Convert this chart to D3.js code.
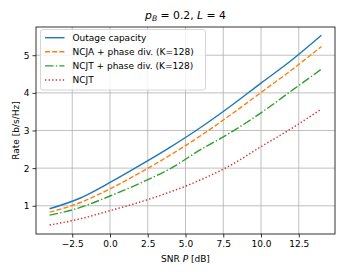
<!DOCTYPE html>
<html>
<head>
<meta charset="utf-8">
<script src="https://cdn.jsdelivr.net/npm/d3@7"></script>
<style>
  body { margin: 0; background: #fff; }
  svg { font-family: "DejaVu Sans", sans-serif; }
</style>
</head>
<body>
<svg id="chart" width="346" height="277"></svg>
<script>
// data
const snr = [-4, -2, 0, 2, 4, 6, 8, 10, 12, 14];
const outage = [0.92, 1.20, 1.62, 2.08, 2.56, 3.08, 3.65, 4.26, 4.86, 5.53];
const ncjaPhase = [0.83, 1.08, 1.45, 1.88, 2.35, 2.86, 3.42, 4.01, 4.60, 5.23];
const ncjtPhase = [0.75, 0.95, 1.26, 1.60, 1.99, 2.49, 2.95, 3.47, 4.05, 4.63];
const ncjt = [0.49, 0.65, 0.87, 1.10, 1.37, 1.69, 2.08, 2.57, 3.05, 3.57];
const seriesNames = ["Outage capacity", "NCJA + phase div. (K=128)", "NCJT + phase div. (K=128)", "NCJT"];
const xTicks = [-2.5, 0, 2.5, 5, 7.5, 10, 12.5];
const yTicks = [1, 2, 3, 4, 5];

let svg = d3.select("#chart");
let mLeft = 36, mRight = 335, mTop = 27, mBottom = 234;

// matplotlib style 5% margins
let xScale = d3.scaleLinear().domain([-4.9, 14.9]).range([mLeft, mRight]);
let yScale = d3.scaleLinear().domain([0.25, 5.75]).range([mBottom, mTop]);

// grid
svg.append("g").selectAll("line").data(xTicks).enter().append("line")
  .attr("x1", d => xScale(d)).attr("x2", d => xScale(d))
  .attr("y1", mTop).attr("y2", mBottom)
  .style("stroke", "#b0b0b0").style("stroke-width", 0.8);
svg.append("g").selectAll("line").data(yTicks).enter().append("line")
  .attr("x1", mLeft).attr("x2", mRight)
  .attr("y1", d => yScale(d)).attr("y2", d => yScale(d))
  .style("stroke", "#b0b0b0").style("stroke-width", 0.8);

// axes
let fmtX = d => d.toFixed(1).replace("-", "\u2212");
let xAxis = svg.append("g").attr("transform", `translate(0,${mBottom})`)
  .call(d3.axisBottom(xScale).tickValues(xTicks).tickFormat(fmtX).tickSize(3.5).tickPadding(3));
let yAxis = svg.append("g").attr("transform", `translate(${mLeft},0)`)
  .call(d3.axisLeft(yScale).tickValues(yTicks).tickFormat(d3.format("d")).tickSize(3.5).tickPadding(3));
[xAxis, yAxis].forEach(a => {
  a.select(".domain").remove();
  a.selectAll("text").style("font-size", "9px").style("font-family", "DejaVu Sans").attr("fill", "#000");
  a.selectAll("line").style("stroke", "#000").style("stroke-width", 0.8);
});

// series
let series = [
  { values: outage, color: "#1f77b4", dash: null },
  { values: ncjaPhase, color: "#ff7f0e", dash: "5,2.2" },
  { values: ncjtPhase, color: "#2ca02c", dash: "8.6,2.2,1.35,2.2" },
  { values: ncjt, color: "#d62728", dash: "1.35,2.2" }
];
let line = d3.line().curve(d3.curveMonotoneX)
  .x((d, i) => xScale(snr[i]))
  .y(d => yScale(d));
svg.append("g").selectAll("path").data(series).enter().append("path")
  .attr("d", d => line(d.values))
  .style("fill", "none")
  .style("stroke", d => d.color)
  .style("stroke-width", 1.4)
  .style("stroke-dasharray", d => d.dash);

// frame
svg.append("rect").attr("x", mLeft).attr("y", mTop)
  .attr("width", mRight - mLeft).attr("height", mBottom - mTop)
  .style("fill", "none").style("stroke", "#000").style("stroke-width", 0.8);

// legend
let legend = svg.append("g");
legend.append("rect").attr("x", 40.5).attr("y", 29.5).attr("width", 165).attr("height", 60.5)
  .attr("rx", 2.5)
  .style("fill", "#fff").style("fill-opacity", 0.8)
  .style("stroke", "#cccccc").style("stroke-width", 0.8);
let rows = legend.selectAll("g.row").data(series).enter().append("g")
  .attr("transform", (d, i) => `translate(0,${37.7 + i * 14.1})`);
rows.append("line").attr("x1", 45).attr("x2", 64.5).attr("y1", 0).attr("y2", 0)
  .style("stroke", d => d.color).style("stroke-width", 1.4)
  .style("stroke-dasharray", d => d.dash);
rows.append("text").attr("x", 72.5).attr("y", 3.3)
  .style("font-size", "9px").text((d, i) => seriesNames[i]);

// title
let title = svg.append("text").attr("x", (mLeft + mRight) / 2).attr("y", 18.5)
  .attr("text-anchor", "middle").style("font-size", "10.8px");
title.append("tspan").style("font-style", "italic").text("p");
title.append("tspan").style("font-style", "italic").style("font-size", "7.6px").attr("dy", 2).text("B");
title.append("tspan").attr("dy", -2).text(" = 0.2, ");
title.append("tspan").style("font-style", "italic").text("L");
title.append("tspan").text(" = 4");

// axis labels
let xl = svg.append("text").attr("x", (mLeft + mRight) / 2).attr("y", 262)
  .attr("text-anchor", "middle").style("font-size", "9px");
xl.append("tspan").text("SNR ");
xl.append("tspan").style("font-style", "italic").text("P");
xl.append("tspan").text(" [dB]");

svg.append("text").attr("transform", `translate(19,${(mTop + mBottom) / 2}) rotate(-90)`)
  .attr("text-anchor", "middle").style("font-size", "9px").text("Rate [b/s/Hz]");
</script>
</body>
</html>
